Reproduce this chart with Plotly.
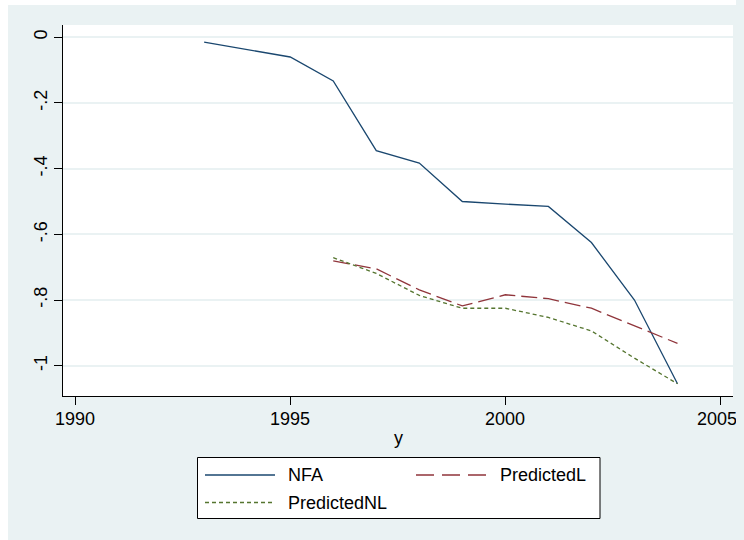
import plotly.graph_objects as go

# Data
nfa_years = [1993, 1995, 1996, 1997, 1998, 1999, 2000, 2001, 2002, 2003, 2004]
nfa = [-0.015, -0.060, -0.133, -0.345, -0.383, -0.500, -0.508, -0.515, -0.625, -0.800, -1.055]

pred_years = [1996, 1997, 1998, 1999, 2000, 2001, 2002, 2003, 2004]
predicted_l = [-0.681, -0.705, -0.769, -0.818, -0.784, -0.796, -0.825, -0.879, -0.932]
predicted_nl = [-0.671, -0.719, -0.786, -0.825, -0.825, -0.853, -0.894, -0.977, -1.055]

x_ticks = [1990, 1995, 2000, 2005]
x_tick_labels = ["1990", "1995", "2000", "2005"]
y_ticks = [0, -0.2, -0.4, -0.6, -0.8, -1]
y_tick_labels = ["0", "-.2", "-.4", "-.6", "-.8", "-1"]

NAVY = "#1A476F"
MAROON = "#90353B"
GREEN = "#55752F"
BG = "#EAF2F3"
FONT = "Liberation Sans, Arial, sans-serif"

# the window only shows ~736px of width, so keep the figure inside it
W, H = 736, 540
# plot area in pixels: x 63..733, y 25..396
L, R, T, B = 63, 733, 25, 396


def px_x(p):
    return (p - L) / (R - L)


def px_y(p):
    return (B - p) / (B - T)


fig = go.Figure()
fig.add_trace(go.Scatter(x=nfa_years, y=nfa, mode="lines", name="NFA",
                         line=dict(color=NAVY, width=1.3)))
fig.add_trace(go.Scatter(x=pred_years, y=predicted_l, mode="lines", name="PredictedL",
                         line=dict(color=MAROON, width=1.3, dash="16px,6px")))
fig.add_trace(go.Scatter(x=pred_years, y=predicted_nl, mode="lines", name="PredictedNL",
                         line=dict(color=GREEN, width=1.3, dash="4px,3px")))

shapes = [
    # white strips at left and top edge of the image
    dict(type="rect", xref="paper", yref="paper",
         x0=px_x(0), x1=px_x(8), y0=px_y(H), y1=px_y(0),
         fillcolor="white", line=dict(width=0)),
    dict(type="rect", xref="paper", yref="paper",
         x0=px_x(0), x1=px_x(W), y0=px_y(5), y1=px_y(0),
         fillcolor="white", line=dict(width=0)),
    # legend box
    dict(type="rect", xref="paper", yref="paper",
         x0=px_x(197.5), x1=px_x(600), y0=px_y(518.5), y1=px_y(457.5),
         fillcolor="white", line=dict(color="black", width=1)),
]
annotations = []

# x tick labels as text under each tick; the last one is nudged left so it
# stays inside the visible window
for tv, tt in zip(x_ticks, x_tick_labels):
    annotations.append(dict(text=tt, xref="x", yref="paper", x=tv, y=px_y(419),
                            xanchor="center", yanchor="middle", showarrow=False,
                            xshift=-4 if tv == x_ticks[-1] else 0,
                            font=dict(size=18, color="black", family=FONT)))

# hand-built legend to get Stata-length samples
legend_items = [
    ("NFA", NAVY, "solid", 205, 275, 475),
    ("PredictedL", MAROON, "18px,8px", 416, 487, 475),
    ("PredictedNL", GREEN, "4px,3px", 205, 275, 502.5),
]
for label, color, dash, x0, x1, yc in legend_items:
    shapes.append(dict(type="line", xref="paper", yref="paper",
                       x0=px_x(x0), x1=px_x(x1), y0=px_y(yc), y1=px_y(yc),
                       line=dict(color=color, width=1.3, dash=dash)))
    annotations.append(dict(text=label, xref="paper", yref="paper",
                            x=px_x(x1 + 11), y=px_y(yc), xanchor="left", yanchor="middle",
                            showarrow=False, font=dict(size=18, color="black", family=FONT)))

# x axis title
annotations.append(dict(text="y", xref="paper", yref="paper", x=0.5, y=px_y(438),
                        xanchor="center", yanchor="middle", showarrow=False,
                        font=dict(size=18, color="black", family=FONT)))

fig.update_layout(
    width=W, height=H,
    margin=dict(l=L, r=W - R, t=T, b=H - B),
    paper_bgcolor=BG,
    plot_bgcolor="white",
    showlegend=False,
    font=dict(family=FONT, size=18, color="black"),
    shapes=shapes,
    annotations=annotations,
)

fig.update_xaxes(
    range=[1989.72, 2005.29], tickvals=x_ticks, showticklabels=False,
    showgrid=False, zeroline=False,
    showline=True, linecolor="black", linewidth=1.3,
    ticks="outside", ticklen=8, tickcolor="black", tickwidth=1.3,
)
fig.update_yaxes(
    range=[-1.0922, 0.0374], tickvals=y_ticks, ticktext=y_tick_labels,
    tickangle=-90,
    showgrid=True, gridcolor=BG, gridwidth=1.5, zeroline=False,
    showline=True, linecolor="black", linewidth=1.3,
    ticks="outside", ticklen=8, tickcolor="black", tickwidth=1.3,
)

# drop the default 8px page margin and paint the page like the graph region
post = ("document.body.style.margin = '0';"
        "document.documentElement.style.background = '%s';"
        "document.body.style.background = '%s';" % (BG, BG))

fig.write_html("out.html", config={"displayModeBar": False}, post_script=post)
